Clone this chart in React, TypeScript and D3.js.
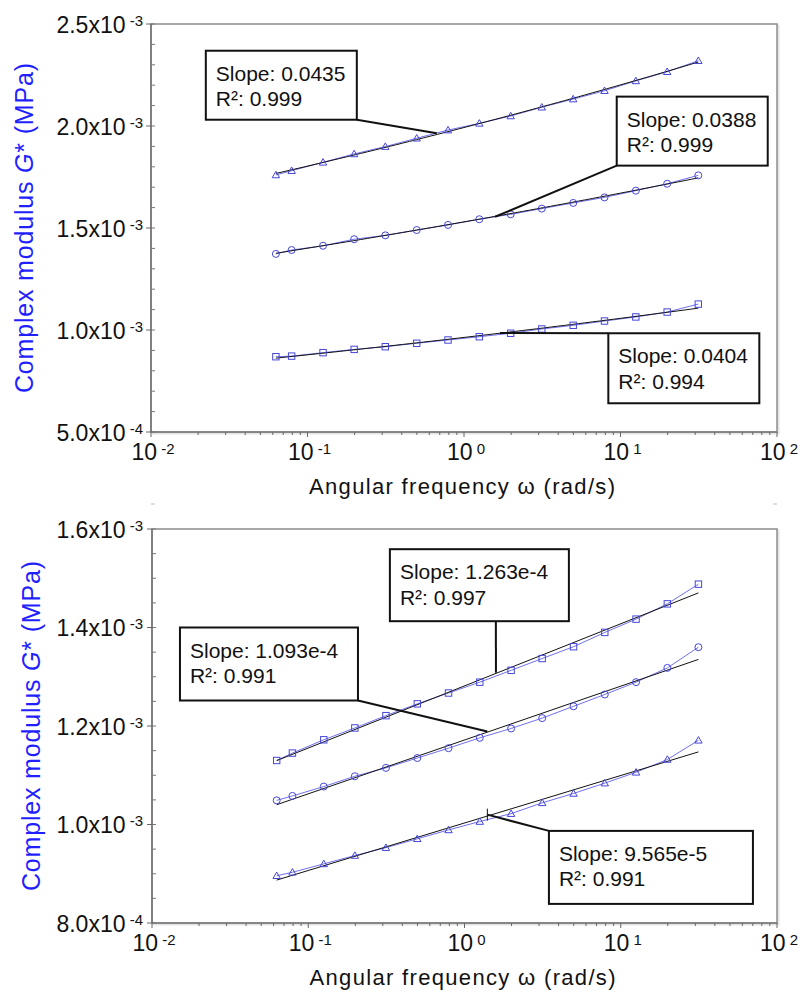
import React from "react";
import * as d3 from "d3";

// ---------- data ----------
const omega = [0.0628, 0.0792, 0.1257, 0.1987, 0.3142, 0.4988, 0.7904, 1.2528, 1.9871, 3.1416, 4.9875, 7.904, 12.528, 19.871, 31.416];

const topTriangles = [1.760, 1.781, 1.822, 1.863, 1.899, 1.940, 1.980, 2.013, 2.049, 2.092, 2.132, 2.173, 2.221, 2.266, 2.320].map(v => v * 1e-3);
const topCircles = [1.373, 1.392, 1.413, 1.445, 1.464, 1.490, 1.515, 1.543, 1.567, 1.595, 1.623, 1.650, 1.683, 1.717, 1.758].map(v => v * 1e-3);
const topSquares = [0.869, 0.872, 0.889, 0.905, 0.918, 0.935, 0.951, 0.967, 0.984, 1.005, 1.023, 1.044, 1.064, 1.088, 1.127].map(v => v * 1e-3);

const botSquares = [1.130, 1.145, 1.172, 1.196, 1.221, 1.245, 1.267, 1.289, 1.313, 1.337, 1.361, 1.390, 1.417, 1.448, 1.488].map(v => v * 1e-3);
const botCircles = [1.049, 1.058, 1.077, 1.098, 1.115, 1.135, 1.155, 1.176, 1.195, 1.216, 1.240, 1.264, 1.289, 1.318, 1.360].map(v => v * 1e-3);
const botTriangles = [0.896, 0.903, 0.920, 0.937, 0.953, 0.971, 0.989, 1.006, 1.022, 1.044, 1.063, 1.084, 1.106, 1.132, 1.171].map(v => v * 1e-3);

const topYTicks = [0.5e-3, 1.0e-3, 1.5e-3, 2.0e-3, 2.5e-3];
const botYTicks = [0.8e-3, 1.0e-3, 1.2e-3, 1.4e-3, 1.6e-3];
const xTickExps = [-2, -1, 0, 1, 2];

const topNotes = [
  { lines: ["Slope: 0.0435", "R²: 0.999"], bx: 0.0224, by: 2.369e-3, lx: 0.67, ly: 1.964e-3 },
  { lines: ["Slope: 0.0388", "R²: 0.999"], bx: 9.46, by: 2.144e-3, lx: 1.58, ly: 1.555e-3 },
  { lines: ["Slope: 0.0404", "R²: 0.994"], bx: 8.36, by: 0.984e-3, lx: 1.70, ly: 0.985e-3 },
];
const botNotes = [
  { lines: ["Slope: 1.263e-4", "R²: 0.997"], bx: 0.333, by: 1.559e-3, lx: 1.59, ly: 1.308e-3 },
  { lines: ["Slope: 1.093e-4", "R²: 0.991"], bx: 0.0151, by: 1.400e-3, lx: 1.40, ly: 1.189e-3 },
  { lines: ["Slope: 9.565e-5", "R²: 0.991"], bx: 3.47, by: 0.987e-3, lx: 1.40, ly: 1.020e-3 },
];

// ---------- helpers ----------
const FONT = "'Liberation Sans', Arial, Helvetica, sans-serif";
const BLUE = "#4646d8";
const LINE_BLUE = "#7070ee";

function linReg(xs: number[], ys: number[]) {
  const n = xs.length;
  const mx = d3.mean(xs)!, my = d3.mean(ys)!;
  let sxy = 0, sxx = 0;
  for (let i = 0; i < n; i++) { sxy += (xs[i] - mx) * (ys[i] - my); sxx += (xs[i] - mx) ** 2; }
  const b = sxy / sxx;
  return { a: my - b * mx, b };
}

type Series = { values: number[]; marker: "tri" | "circ" | "sq" };

function Marker({ kind, x, y }: { kind: string; x: number; y: number }) {
  if (kind === "circ") return <circle cx={x} cy={y} r={3.5} fill="none" stroke={BLUE} strokeWidth={1} />;
  if (kind === "sq") return <rect x={x - 3.2} y={y - 3.2} width={6.4} height={6.4} fill="none" stroke={BLUE} strokeWidth={1} />;
  const s = 3.7;
  return <path d={`M${x},${y - s}L${x + s},${y + s * 0.75}L${x - s},${y + s * 0.75}Z`} fill="none" stroke={BLUE} strokeWidth={1} />;
}

function Panel(props: {
  top: number; bottom: number; left: number; right: number;
  yDomain: [number, number]; yTicks: number[]; minorStep: number;
  series: Series[]; fit: "power" | "linear"; notes: typeof topNotes;
  boxSizes: { w: number; h: number; corner: [number, number] }[];
  yTitleX: number; extraTick?: number;
}) {
  const { top, bottom, left, right } = props;
  const x = d3.scaleLog().domain([1e-2, 1e2]).range([left, right]);
  const y = d3.scaleLinear().domain(props.yDomain).range([bottom, top]);
  const line = d3.line<[number, number]>().x(d => x(d[0])).y(d => y(d[1]));

  const minorX: number[] = [];
  for (let e = -2; e < 2; e++) for (let k = 2; k <= 9; k++) minorX.push(k * Math.pow(10, e));
  const minorY: number[] = [];
  const [y0, y1] = props.yDomain;
  for (let v = y0; v <= y1 + 1e-12; v += props.minorStep) minorY.push(v);

  const fitPaths = props.series.map(s => {
    const lx = omega.map(Math.log10);
    if (props.fit === "power") {
      const r = linReg(lx, s.values.map(Math.log10));
      const pts: [number, number][] = d3.range(0, 61).map(i => {
        const l = lx[0] + (lx[lx.length - 1] - lx[0]) * i / 60;
        return [Math.pow(10, l), Math.pow(10, r.a + r.b * l)];
      });
      return line(pts)!;
    } else {
      const r = linReg(lx, s.values);
      const pts: [number, number][] = [lx[0], lx[lx.length - 1]].map(l => [Math.pow(10, l), r.a + r.b * l]);
      return line(pts)!;
    }
  });

  const midX = (left + right) / 2;
  return (
    <g fontFamily={FONT}>
      {/* frame */}
      <rect x={left + 1.5} y={top + 1.5} width={right - left} height={bottom - top} fill="none" stroke="#e4e4e4" strokeWidth={2} />
      <rect x={left} y={top} width={right - left} height={bottom - top} fill="white" stroke="#8c8c8c" strokeWidth={1.5} />
      <line x1={left} x2={left} y1={top} y2={bottom} stroke="#666" strokeWidth={1.2} />
      <line x1={left} x2={right} y1={bottom} y2={bottom} stroke="#666" strokeWidth={1.2} />

      {/* x ticks */}
      {minorX.map((v, i) => <line key={"mx" + i} x1={x(v)} x2={x(v)} y1={bottom} y2={bottom + 3} stroke="#666" strokeWidth={1} />)}
      {xTickExps.map(e => <line key={"Mx" + e} x1={x(Math.pow(10, e))} x2={x(Math.pow(10, e))} y1={bottom} y2={bottom + 5} stroke="#666" strokeWidth={1} />)}
      {xTickExps.map(e => (
        <text key={"xl" + e} x={x(Math.pow(10, e)) + 2} y={bottom + 28} textAnchor="middle" fontSize={23} fill="#111">
          10<tspan dy={-6} fontSize={15}>{" " + e}</tspan>
        </text>
      ))}

      {/* y ticks */}
      {minorY.map((v, i) => <line key={"my" + i} x1={left} x2={left + 4} y1={y(v)} y2={y(v)} stroke="#777" strokeWidth={1} />)}
      {props.yTicks.map((v, i) => <line key={"My" + i} x1={left - 5} x2={left} y1={y(v)} y2={y(v)} stroke="#666" strokeWidth={1} />)}
      {props.yTicks.map((v, i) => {
        const ex = Math.floor(Math.log10(v) + 1e-9);
        const m = (v / Math.pow(10, ex)).toFixed(1);
        return (
          <text key={"yl" + i} x={143} y={y(v) + 8.5} textAnchor="end" fontSize={23} fill="#111">
            {m}x10<tspan dy={-7} fontSize={15}>{" " + ex}</tspan>
          </text>
        );
      })}

      {/* data */}
      {props.series.map((s, si) => (
        <g key={"s" + si}>
          <path d={line(omega.map((o, i) => [o, s.values[i]] as [number, number]))!} fill="none" stroke={LINE_BLUE} strokeWidth={1} />
          <path d={fitPaths[si]} fill="none" stroke="#111" strokeWidth={1} />
          {omega.map((o, i) => <Marker key={i} kind={s.marker} x={x(o)} y={y(s.values[i])} />)}
        </g>
      ))}

      {/* annotations */}
      {props.notes.map((n, i) => {
        const bx = x(n.bx), by = y(n.by);
        const { w, h, corner } = props.boxSizes[i];
        const sx = bx + w * corner[0], sy = by + h * corner[1];
        return (
          <g key={"n" + i}>
            <line x1={sx} y1={sy} x2={x(n.lx)} y2={y(n.ly)} stroke="#111" strokeWidth={2} />
            <rect x={bx} y={by} width={w} height={h} fill="white" stroke="#111" strokeWidth={2} />
            {n.lines.map((t, j) => (
              <text key={j} x={bx + 10} y={by + 30 + j * 25.5} fontSize={21} fill="#111">{t}</text>
            ))}
          </g>
        );
      })}
      {props.extraTick !== undefined && (
        <line x1={x(props.notes[2].lx)} x2={x(props.notes[2].lx)} y1={y(props.notes[2].ly) - 6} y2={y(props.notes[2].ly) + 6} stroke="#111" strokeWidth={1} />
      )}

      {/* titles */}
      <text x={midX - 2} y={bottom + 62} textAnchor="middle" fontSize={22} fill="#111" textLength={306} lengthAdjust="spacing">
        Angular frequency  ω  (rad/s)
      </text>
      <text transform={`translate(${props.yTitleX},${(top + bottom) / 2}) rotate(-90)`} textAnchor="middle" fontSize={25} fill="#1f1fff" textLength={330} lengthAdjust="spacing">
        Complex modulus <tspan fontStyle="italic">G</tspan>*  (MPa)
      </text>
    </g>
  );
}

export default function App() {
  return (
    <svg width={801} height={992} style={{ position: "absolute", left: 0, top: 0, background: "white" }}>
      <rect width={801} height={992} fill="white" />
      <Panel
        top={24} bottom={432} left={151} right={777}
        yDomain={[0.5e-3, 2.5e-3]} yTicks={topYTicks} minorStep={0.1e-3}
        series={[{ values: topTriangles, marker: "tri" }, { values: topCircles, marker: "circ" }, { values: topSquares, marker: "sq" }]}
        fit="power" notes={topNotes}
        boxSizes={[{ w: 151, h: 69, corner: [1, 1] }, { w: 151, h: 69, corner: [0, 1] }, { w: 151, h: 70, corner: [0, 0] }]}
        yTitleX={33}
      />
      <Panel
        top={529} bottom={923} left={152} right={777}
        yDomain={[0.8e-3, 1.6e-3]} yTicks={botYTicks} minorStep={0.05e-3}
        series={[{ values: botSquares, marker: "sq" }, { values: botCircles, marker: "circ" }, { values: botTriangles, marker: "tri" }]}
        fit="linear" notes={botNotes}
        boxSizes={[{ w: 179, h: 72, corner: [0.592, 1] }, { w: 178, h: 73, corner: [1, 1] }, { w: 204, h: 73, corner: [0, 0] }]}
        yTitleX={40} extraTick={1}
      />
      <line x1={151} x2={155} y1={504} y2={504} stroke="#bbb" strokeWidth={1} />
      <line x1={773} x2={777} y1={504} y2={504} stroke="#bbb" strokeWidth={1} />
    </svg>
  );
}
